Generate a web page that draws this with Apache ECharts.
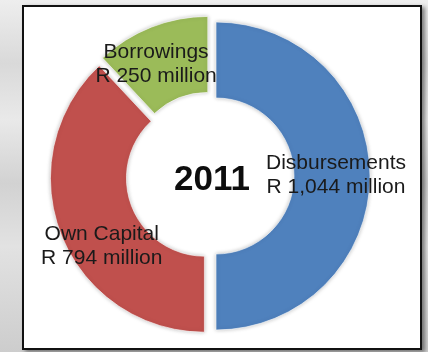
<!DOCTYPE html>
<html>
<head>
<meta charset="utf-8">
<script src="https://cdn.jsdelivr.net/npm/echarts@6/dist/echarts.min.js"></script>
<style>
  html, body { margin: 0; padding: 0; }
  body {
    width: 428px; height: 352px; overflow: hidden; position: relative;
    background: linear-gradient(180deg, #eeeeee 0%, #d9d9d9 18%, #e9e9e9 34%, #d2d2d2 52%, #e2e2e2 70%, #cdcdcd 100%);
  }
  #frame {
    position: absolute; left: 22px; top: 5px; width: 400px; height: 345px;
    box-sizing: border-box; border: 2px solid #111; background: #fff;
    box-shadow: 3px 2px 4px rgba(0,0,0,0.45);
  }
  #chart { position: absolute; left: 0; top: 0; width: 428px; height: 352px; }
</style>
</head>
<body>
<div id="frame"></div>
<div id="chart"></div>
<script>
// Funding sources for the year, in R million
const year = '2011';
const categories = ['Disbursements', 'Own Capital', 'Borrowings'];
const values = [1044, 794, 250];
const valueLabels = ['R 1,044 million', 'R 794 million', 'R 250 million'];
const colors = ['#4f81bd', '#c0504d', '#9bbb59'];
// nudges of each label from the middle of its ring segment
const labelShift = [[1, -1], [8, 24], [-8, 4]];

const chart = echarts.init(document.getElementById('chart'), null, { renderer: 'canvas' });

const data = categories.map((name, i) => ({
  name: name,
  value: values[i],
  selected: true,
  itemStyle: { color: colors[i] }
}));

chart.setOption({
  animation: false,
  backgroundColor: 'transparent',
  graphic: [{
    type: 'text',
    x: 212, y: 180,
    style: {
      text: year,
      fill: '#0d0d0d',
      font: 'bold 35px "Liberation Sans", Arial, sans-serif',
      textAlign: 'center',
      textVerticalAlign: 'middle'
    }
  }],
  series: [{
    type: 'pie',
    center: [210, 176],
    radius: [78, 154],
    startAngle: 90,
    clockwise: true,
    selectedMode: 'multiple',
    selectedOffset: 6,
    silent: true,
    itemStyle: {
      borderColor: 'rgba(255,255,255,0.6)',
      borderWidth: 1,
      shadowBlur: 4,
      shadowColor: 'rgba(0,0,0,0.25)'
    },
    label: {
      show: true,
      position: 'inside',
      color: '#1a1a1a',
      fontFamily: '"Liberation Sans", Arial, sans-serif',
      fontSize: 21,
      lineHeight: 24,
      align: 'center',
      formatter: p => p.name + '\n' + valueLabels[p.dataIndex]
    },
    labelLine: { show: false },
    labelLayout: p => ({ dx: labelShift[p.dataIndex][0], dy: labelShift[p.dataIndex][1] }),
    emphasis: { disabled: true },
    data: data
  }]
});
</script>
</body>
</html>
